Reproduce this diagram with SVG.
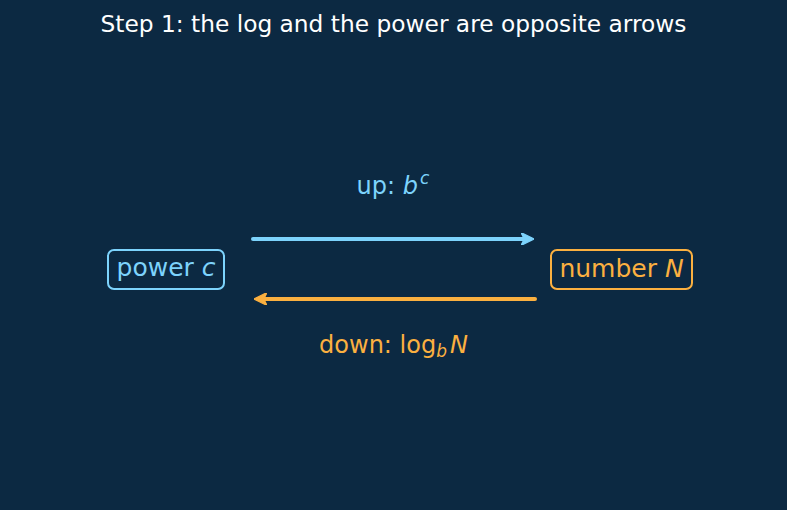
<svg xmlns="http://www.w3.org/2000/svg" width="787" height="510" viewBox="0 0 787 510">
<style>
text{font-family:"DejaVu Sans",sans-serif}
.t{fill:#ffffff;font-size:23.3px}
.blue{fill:#7dd3fc}
.orange{fill:#fbb040}
.lbl{font-size:25px}
.al{font-size:24px}
.sm{font-size:17px}
.box{fill:none;stroke-width:2}
</style>
<defs>
<marker id="hb" viewBox="0 0 10 10" refX="7" refY="5" markerWidth="3.2" markerHeight="3.2" orient="auto" markerUnits="strokeWidth">
<path d="M0,0 L10,5 L0,10 L2.5,5 Z" fill="#7dd3fc" stroke="#7dd3fc" stroke-width="1" stroke-linejoin="round"/>
</marker>
<marker id="ho" viewBox="0 0 10 10" refX="7" refY="5" markerWidth="3.2" markerHeight="3.2" orient="auto" markerUnits="strokeWidth">
<path d="M0,0 L10,5 L0,10 L2.5,5 Z" fill="#fbb040" stroke="#fbb040" stroke-width="1" stroke-linejoin="round"/>
</marker>
</defs>
<rect width="787" height="510" fill="#0c2942"/>
<text class="t" x="393.5" y="32" text-anchor="middle">Step 1: the log and the power are opposite arrows</text>
<g id="power">
<rect class="box" x="108" y="250" width="116" height="39" rx="6" stroke="#7dd3fc"/>
<text class="blue lbl" x="166" y="276" text-anchor="middle">power <tspan font-style="italic">c</tspan></text>
</g>
<g id="number">
<rect class="box" x="551" y="250" width="141" height="39" rx="6" stroke="#fbb040"/>
<text class="orange lbl" x="621.5" y="277" text-anchor="middle">number <tspan font-style="italic">N</tspan></text>
</g>
<g id="connectors">
<line x1="253" y1="239" x2="530" y2="239" stroke="#7dd3fc" stroke-width="4" stroke-linecap="round" marker-end="url(#hb)"/>
<line x1="535" y1="299" x2="258" y2="299" stroke="#fbb040" stroke-width="4" stroke-linecap="round" marker-end="url(#ho)"/>
<text class="blue al" x="393" y="194" text-anchor="middle">up: <tspan font-style="italic">b</tspan><tspan class="sm" font-style="italic" dx="2" dy="-10">c</tspan></text>
<text class="orange al" x="393.5" y="353" text-anchor="middle">down: log<tspan class="sm" font-style="italic" dy="4">b</tspan><tspan font-style="italic" dy="-4" dx="3">N</tspan></text>
</g>
</svg>
